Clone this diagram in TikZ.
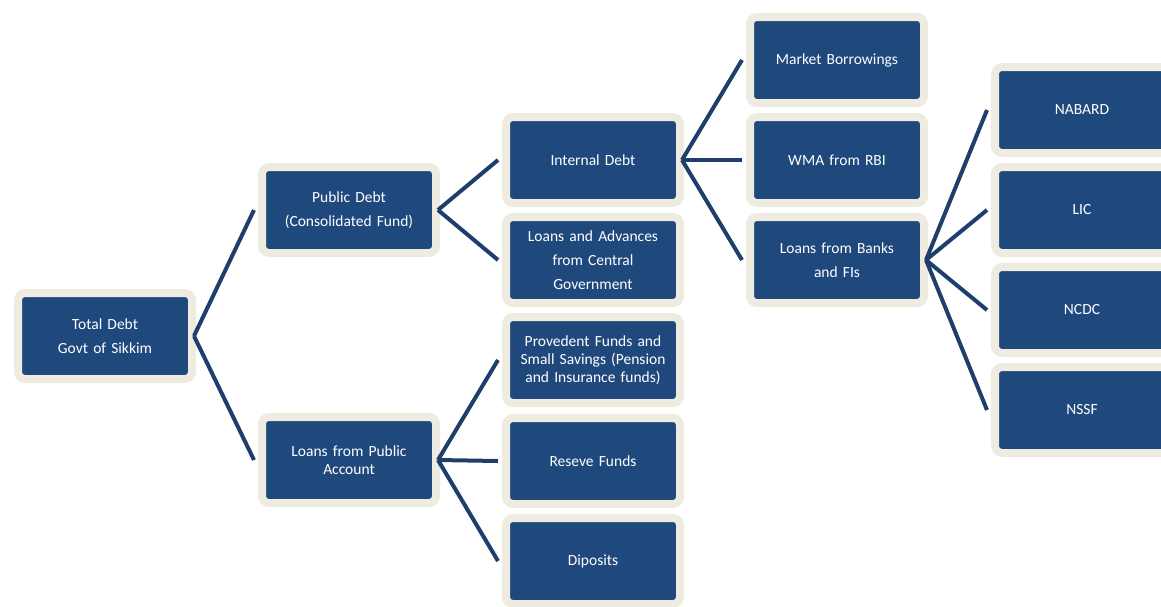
\documentclass[tikz,border=0pt]{standalone}
\usepackage{fontspec}
\setmainfont{Carlito}
\usetikzlibrary{shadows}
\definecolor{boxblue}{RGB}{31,73,125}
\definecolor{boxrim}{RGB}{238,236,225}
\definecolor{linkblue}{RGB}{30,62,108}

\begin{document}
\begin{tikzpicture}[x=1pt,y=-1pt,
  debtbox/.style={fill=boxblue, draw=boxrim, line width=8pt, rounded corners=7pt,
    minimum width=174pt, minimum height=86pt, inner sep=0pt, text width=160pt, align=center,
    text=white, font=\fontsize{15.5}{18}\selectfont,
    drop shadow={shadow xshift=1.5pt, shadow yshift=-3pt, opacity=0.35}},
  link/.style={linkblue, line width=4pt}]
\path[use as bounding box, clip] (0,0) rectangle (1161,606);

\node[debtbox] (total) at (105,336) {Total Debt\\[6pt]Govt of Sikkim};
\node[debtbox] (public) at (349,210) {Public Debt\\[6pt](Consolidated Fund)};
\node[debtbox] (account) at (349,460) {Loans from Public\\Account};
\node[debtbox] (internal) at (593,160) {Internal Debt};
\node[debtbox] (central) at (593,260) {Loans and Advances\\[6pt]from Central\\[6pt]Government};
\node[debtbox] (provident) at (593,360) {Provedent Funds and\\Small Savings (Pension\\and Insurance funds)};
\node[debtbox] (reserve) at (593,461) {Reseve Funds};
\node[debtbox] (deposits) at (593,561) {Diposits};
\node[debtbox] (market) at (837,60) {Market Borrowings};
\node[debtbox] (wma) at (837,160) {WMA from RBI};
\node[debtbox] (banks) at (837,260) {Loans from Banks\\[6pt]and FIs};
\foreach \name/\y in {NABARD/110,LIC/210,NCDC/310,NSSF/410} \node[debtbox] (\name) at (1082,\y) {\name};

\foreach \from/\to in {total/public,total/account,public/internal,public/central,account/provident,account/reserve,account/deposits,internal/market,internal/wma,internal/banks,banks/NABARD,banks/LIC,banks/NCDC,banks/NSSF} \draw[link] ([xshift=-2pt]\from.east) -- ([xshift=-4pt]\to.west);

\end{tikzpicture}
\end{document}
